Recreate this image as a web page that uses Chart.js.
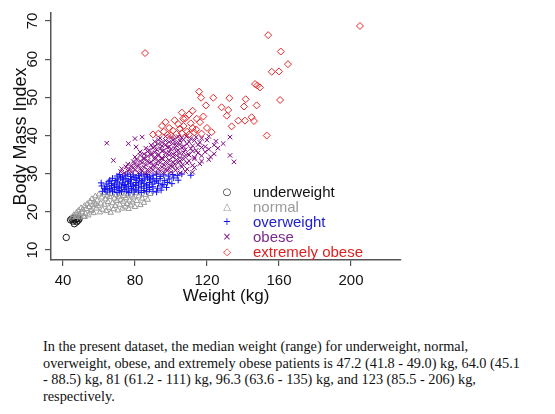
<!DOCTYPE html>
<html><head><meta charset="utf-8">
<script src="https://cdn.jsdelivr.net/npm/chart.js@4/dist/chart.umd.min.js"></script>
<style>
html,body{margin:0;padding:0;background:#fff;width:555px;height:414px;overflow:hidden;position:relative;}
#wrap{position:absolute;left:0;top:0;width:555px;height:310px;}
#legend{position:absolute;left:220px;top:184px;font:15px "Liberation Sans",Arial,sans-serif;}
.row{height:15px;line-height:15px;position:relative;white-space:nowrap;width:160px}
.sym{position:absolute;left:0;top:0;width:14px;text-align:center;font-family:"DejaVu Sans",sans-serif;font-size:10px}
.lab{position:absolute;left:33px;top:0}
#caption{position:absolute;left:43px;top:338px;font:14.3px "Liberation Serif","Times New Roman",serif;line-height:16.7px;color:#111;white-space:nowrap}
</style></head>
<body>
<div id="wrap"><canvas id="c" width="555" height="310"></canvas></div>
<div id="legend"></div>
<div id="caption">In the present dataset, the median weight (range) for underweight, normal,<br>overweight, obese, and extremely obese patients is 47.2 (41.8 - 49.0) kg, 64.0 (45.1<br>- 88.5) kg, 81 (61.2 - 111) kg, 96.3 (63.6 - 135) kg, and 123 (85.5 - 206) kg,<br>respectively.</div>
<script>
const categories = ['underweight','normal','overweight','obese','extremely obese'];
const seriesColors = ['#1a1a1a','#9a9a9a','#1010f0','#800a84','#e8262a'];
const legendTextColors = ['#111111','#9a9a9a','#2020d0','#7a2a8a','#e02020'];
const pointStyles = ['circle','triangle','cross','crossRot','rectRot'];
const legendSymbols = ['\u25CB','\u25B3','+','\u00D7','\u25C7'];
const xTicks = [40,80,120,160,200];
const yTicks = [10,20,30,40,50,60,70];
const xTitle = 'Weight (kg)';
const yTitle = 'Body Mass Index';

// [weight kg, BMI]
const underweight = [[41.8,13.3],[44.2,17.9],[45.0,18.2],[45.6,17.6],[46.1,18.4],[46.7,17.9],[47.2,18.1],[47.6,17.4],[48.1,18.3],[48.5,17.8],[49.0,18.2],[46.3,16.9]];

const normal = [[45.1,18.6],[46,19.2],[47,18.7],[47.5,19.8],[48,18.9],[48.5,20.3],[49,19.4],[49.5,18.6],[50,21],[50.5,19.9],[51,20.6],[51.5,18.8],[52,21.6],[52.5,19.5],[53,20.8],[53.5,22.1],[54,19.1],[54.5,21.3],[55,22.7],[55.5,20.2],[56,23.4],[56.5,21.8],[57,19.7],[57.5,22.5],[58,24.1],[58.5,20.9],[59,23],[59.5,21.5],[60,24.6],[60.5,19.9],[61,22.2],[61.5,23.8],[62,20.6],[62.5,24.9],[63,21.9],[63.5,23.3],[64,20.3],[64.5,24.3],[65,22.6],[65.5,21.1],[66,23.9],[66.5,19.8],[67,24.7],[67.5,22.3],[68,20.7],[68.5,23.5],[69,21.6],[69.5,24.4],[70,22.9],[70.5,20.4],[71,24],[71.5,21.9],[72,23.2],[72.5,24.8],[73,20.9],[73.5,22.7],[74,24.2],[74.5,21.4],[75,23.6],[75.5,22.1],[76,24.6],[76.5,20.8],[77,23],[77.5,21.7],[78,24.3],[78.5,22.5],[79,23.8],[80,21.3],[80.5,24.9],[81,22.9],[82,24.1],[83,21.8],[84,23.5],[85,22.4],[86,24.5],[87,23.2],[88.5,24.7],[58,22],[52,18.7],[56,20.5]];

const overweight = [[62,25.4],[63.5,25.9],[64.5,25.2],[66,25.7],[67.5,25.3],[68.5,25.8],[70,25.1],[71.5,25.6],[72.5,25.3],[74,25.9],[75.5,25.4],[76.5,25.1],[78,25.7],[79.5,25.2],[80.5,25.8],[82,25.5],[83.5,25.1],[85,25.6],[86.5,25.3],[88,25.9],[90,25.4],[92,25.2],[94.5,25.7],
[61.5,26.8],[63,26.2],[64.5,26.6],[66,26.1],[67,26.9],[68.5,26.4],[70,26.7],[71,26.2],[72.5,26.5],[74,26.9],[75,26.3],[76.5,26.7],[78,26.1],[79,26.6],[80.5,26.9],[82,26.3],[83.5,26.7],[85,26.2],[86.5,26.8],[88,26.4],[90,26.6],[92.5,26.2],[95,26.8],[97.5,26.4],
[61.2,27.6],[64,27.3],[65.5,27.9],[67,27.4],[68.5,27.1],[70,27.8],[71.5,27.3],[73,27.6],[74.5,27.2],[76,27.9],[77.5,27.5],[79,27.1],[80.5,27.7],[82,27.3],[83.5,27.8],[85,27.4],[86.5,27.1],[88,27.7],[89.5,27.3],[91,27.9],[93,27.5],[95.5,27.2],[98,27.7],[100.5,27.4],
[66,28.3],[67.5,28.8],[69,28.2],[70.5,28.6],[72,28.9],[73.5,28.4],[75,28.7],[76.5,28.1],[78,28.5],[79.5,28.9],[81,28.3],[82.5,28.7],[84,28.2],[85.5,28.6],[87,28.9],[88.5,28.4],[90,28.8],[92,28.3],[94,28.7],[96.5,28.2],[99,28.6],[101.5,28.9],[104,28.3],
[70,29.4],[71.5,29.8],[73,29.2],[74.5,29.6],[76,29.9],[77.5,29.3],[79,29.7],[80.5,29.1],[82,29.5],[83.5,29.9],[85,29.4],[86.5,29.8],[88,29.2],[90,29.6],[92,29.9],[94,29.3],[96,29.7],[98.5,29.4],[101,29.8],[103.5,29.5],[106,29.9],[111,29.6]];

const obese = [[72,30.6],[74,30.2],[76,30.8],[78,30.4],[80,30.9],[82,30.3],[84,30.7],[86,30.1],[88,30.5],[90,30.9],[92,30.2],[94,30.6],[96,30.3],[98,30.8],[100,30.4],[102.5,30.9],[105,30.2],[108,30.6],[112,30.4],
[72.6,31.3],[75,31.8],[77,31.2],[79,31.6],[81,31.9],[83,31.4],[85,31.7],[87,31.1],[89,31.5],[91,31.9],[93,31.3],[95,31.7],[97,31.2],[99,31.6],[101,31.9],[103.5,31.4],[106,31.8],[109,31.2],[113,31.6],
[76,32.5],[78,32.1],[80,32.7],[82,32.3],[84,32.9],[86,32.4],[88,32.8],[90,32.2],[92,32.6],[94,32.9],[96,32.3],[98,32.7],[100,32.1],[102,32.5],[104,32.9],[106.5,32.4],[109,32.8],[112,32.2],[116,32.6],
[68,33.5],[79,33.2],[81,33.7],[83,33.3],[85,33.9],[87,33.4],[89,33.1],[91,33.8],[93,33.4],[95,33.9],[97,33.2],[99,33.6],[101,33.1],[103,33.7],[105,33.3],[107,33.8],[110,33.4],[113,33.9],[117,33.3],[121,33.7],[135,33.1],
[80,34.4],[82.8,34.8],[85,34.2],[87,34.6],[89,34.9],[91,34.3],[93,34.7],[95,34.1],[97,34.5],[99,34.9],[101,34.4],[103,34.8],[105,34.2],[107.5,34.6],[110,34.9],[113,34.3],[117,34.7],[122,34.4],[132.8,34.8],
[82.8,35.7],[85,35.2],[87,35.8],[89,35.3],[91,35.6],[93,35.1],[95,35.9],[97,35.4],[99,35.7],[101,35.2],[103,35.8],[105,35.3],[107,35.6],[109.5,35.1],[112,35.9],[115,35.4],[119,35.7],[124,35.2],
[86,36.7],[88,36.2],[90,36.8],[92,36.3],[94,36.6],[96,36.1],[98,36.9],[100,36.4],[102,36.7],[104,36.2],[106,36.8],[108,36.3],[111,36.6],[114,36.1],[117,36.9],[121,36.4],[126,36.7],
[64.3,38.0],[76.3,37.9],[80.6,37.0],[89,37.5],[91,37.2],[93,37.8],[95,37.3],[97,37.6],[99,37.1],[101,37.9],[103,37.4],[105,37.7],[107,37.2],[109,37.8],[112,37.3],[115,37.6],[119,37.1],[124,37.5],[129,37.9],
[80,39.2],[91,38.4],[93,38.9],[95,38.2],[97,38.7],[99,38.3],[101,38.8],[103,38.1],[105,38.6],[107,38.9],[110,38.4],[113,38.7],[116,38.2],[120,38.8],[125,38.5],
[84,39.6],[94,39.3],[97,39.8],[100,39.5],[102,39.1],[104,39.7],[106,39.4],[108.5,39.8],[111,39.2],[114,39.6],[117,39.3],[121,39.8],[132.8,39.6]];

const extremelyObese = [[85.6,61.6],[205,68.7],[154,66.3],[161,62.0],[165,58.7],[156,56.7],[160,56.8],[146.7,53.5],[148,53.1],[149.4,52.6],[160.6,49.3],[115.6,51.5],[116.7,49.9],[123.5,49.9],[132.4,49.8],[141.5,49.5],[119.4,47.9],[128.1,47.4],[131.8,46.7],[140.6,47.6],[147.6,47.9],[131,45.2],[106.8,44.4],[114.3,44.4],[116.1,43.5],[137.4,43.9],[141.1,43.9],[144.8,44.8],[146.1,43.8],[133.7,42.4],[122.6,40.9],[153.2,40.0],
[93,40.5],[96,41.0],[98,40.2],[99,42.0],[101,41.3],[103,40.4],[104,43.0],[105,41.8],[106,40.6],[107,42.5],[108,44.5],[109,41.0],[110,40.3],[111,43.2],[112,42.0],[113,40.8],[114,41.6],[100,40.1],[97,43.5],[102,44.0],[110,45.5],[106,46.0],[112,46.5],[118,45.0],[120,42.0],[117,40.5],[90,40.3],[95,42.5]];

const seriesData = [underweight, normal, overweight, obese, extremelyObese];
const FONT = '"Liberation Sans", Arial, sans-serif';

const datasets = categories.map((name, i) => ({
  label: name,
  data: seriesData[i].map(p => ({x: p[0], y: p[1]})),
  pointStyle: pointStyles[i],
  pointRadius: i === 4 ? 3.5 : 3.2,
  pointBorderWidth: 1,
  borderColor: seriesColors[i],
  backgroundColor: 'rgba(0,0,0,0)',
  pointBackgroundColor: 'rgba(0,0,0,0)',
  showLine: false,
  order: 4 - i
}));

new Chart(document.getElementById('c'), {
  type: 'scatter',
  data: {datasets},
  options: {
    responsive: false,
    animation: false,
    devicePixelRatio: 1,
    layout: {padding: {left: 0, top: 12, right: 154, bottom: 0}},
    plugins: {legend: {display: false}, tooltip: {enabled: false}},
    scales: {
      x: {
        type: 'linear', min: 33.33, max: 227.8,
        afterBuildTicks: s => { s.ticks = xTicks.map(v => ({value: v})); },
        afterFit: s => { s.height = 50; },
        grid: {display: true, drawOnChartArea: false, drawTicks: true, tickLength: 6, color: '#555', lineWidth: 1.2},
        border: {display: true, color: '#555', width: 1.5},
        ticks: {font: {size: 15, family: FONT}, color: '#111', padding: 6, maxRotation: 0, autoSkip: false},
        title: {display: true, text: xTitle, font: {size: 17, family: FONT}, color: '#111', padding: {top: 0, bottom: 3}}
      },
      y: {
        type: 'linear', min: 7.4, max: 72.1,
        afterBuildTicks: s => { s.ticks = yTicks.map(v => ({value: v})); },
        afterFit: s => { s.width = 51; },
        grid: {display: true, drawOnChartArea: false, drawTicks: true, tickLength: 6, color: '#555', lineWidth: 1.2},
        border: {display: true, color: '#555', width: 1.5},
        ticks: {font: {size: 15, family: FONT}, color: '#111', padding: 4, minRotation: 90, maxRotation: 90, crossAlign: 'center', autoSkip: false},
        title: {display: true, text: yTitle, font: {size: 18, family: FONT}, color: '#111', padding: {top: 10, bottom: 0}}
      }
    }
  }
});

const lg = document.getElementById('legend');
categories.forEach((name, i) => {
  const row = document.createElement('div');
  row.className = 'row';
  const s = document.createElement('span');
  s.className = 'sym'; s.textContent = legendSymbols[i]; s.style.color = seriesColors[i];
  const t = document.createElement('span');
  t.className = 'lab'; t.textContent = name; t.style.color = legendTextColors[i];
  row.appendChild(s); row.appendChild(t);
  lg.appendChild(row);
});
</script>
</body></html>
